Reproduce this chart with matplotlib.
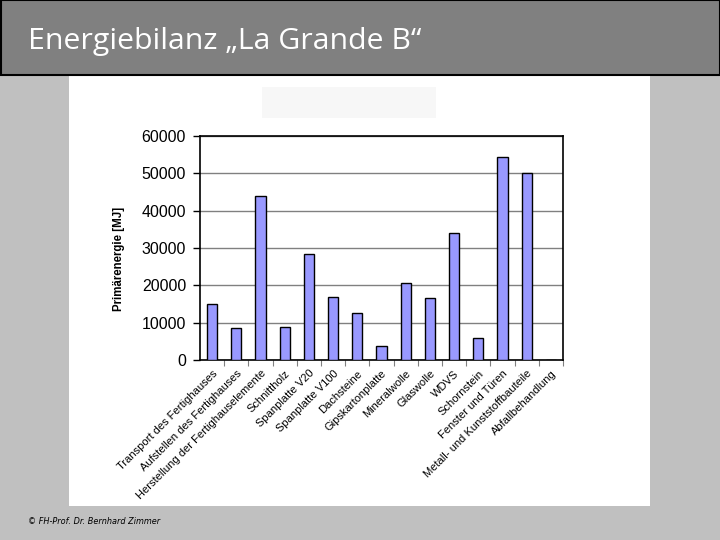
import matplotlib
matplotlib.use("Agg")
import matplotlib.pyplot as plt
from matplotlib.patches import Rectangle
from matplotlib.ticker import FixedLocator

# data
kategorien = ["Transport des Fertighauses", "Aufstellen des Fertighauses",
              "Herstellung der Fertighauselemente", "Schnittholz",
              "Spanplatte V20", "Spanplatte V100", "Dachsteine",
              "Gipskartonplatte", "Mineralwolle", "Glaswolle", "WDVS",
              "Schornstein", "Fenster und Türen",
              "Metall- und Kunststoffbauteile", "Abfallbehandlung"]
primaerenergie = [15000, 8500, 43900, 8800, 28300, 17000, 12500,
                  3700, 20500, 16500, 33900, 5800, 54300, 50000, 0]
y_ticks = [0, 10000, 20000, 30000, 40000, 50000, 60000]

titel = "Energiebilanz \u201eLa Grande B\u201c"
fusszeile = "\u00a9 FH-Prof. Dr. Bernhard Zimmer"

fig = plt.figure(figsize=(7.2, 5.4), dpi=100)
fig.patch.set_facecolor("#c0c0c0")

# slide background drawn in pixel coords
bg = fig.add_axes([0, 0, 1, 1])
bg.set_xlim(0, 720)
bg.set_ylim(540, 0)
bg.axis("off")
bg.add_patch(Rectangle((69, 75), 581, 431, facecolor="white", edgecolor="none"))
bg.add_patch(Rectangle((262, 87), 174, 31, facecolor="#f7f7f7", edgecolor="none"))
bg.add_patch(Rectangle((0.5, 0), 719, 75, facecolor="#808080", edgecolor="black", lw=1.5))
bg.text(28, 42, titel, color="white", fontsize=21.8, family="Open Sans",
        va="center", ha="left")
bg.text(28, 521, fusszeile, color="black", fontsize=5.9, style="italic",
        va="center", ha="left")

# the chart
ax = fig.add_axes([200/720, 1-360/540, 363/720, 224/540])
x = list(range(len(kategorien)))
ax.bar(x, primaerenergie, width=0.42, color="#9999ff", edgecolor="black",
       linewidth=1, zorder=3)
ax.set_xlim(-0.5, len(kategorien)-0.5)
ax.set_ylim(0, 60000)
ax.set_yticks(y_ticks)
ax.set_yticklabels([str(v) for v in y_ticks], family="Liberation Sans", fontsize=11.5)
ax.yaxis.grid(True, color="#808080", linewidth=1, zorder=0)
ax.tick_params(axis="y", direction="out", length=5, width=1, pad=5)

ax.set_xticks(x)
ax.set_xticklabels(kategorien, rotation=45, ha="right", va="top",
                   rotation_mode="anchor", family="Liberation Sans", fontsize=8)
ax.tick_params(axis="x", which="major", length=0, pad=6)
ax.xaxis.set_minor_locator(FixedLocator([i + 0.5 for i in range(len(kategorien))]))
ax.tick_params(axis="x", which="minor", direction="out", length=4, width=0.8,
               color="#808080")

ax.set_ylabel("Primärenergie [MJ]", family="Liberation Sans", fontsize=8.3,
              fontweight="bold")
ax.yaxis.set_label_coords(-0.207, 0.45)
for s in ax.spines.values():
    s.set_linewidth(1.2)

fig.savefig("out.png", dpi=100, facecolor=fig.get_facecolor())
